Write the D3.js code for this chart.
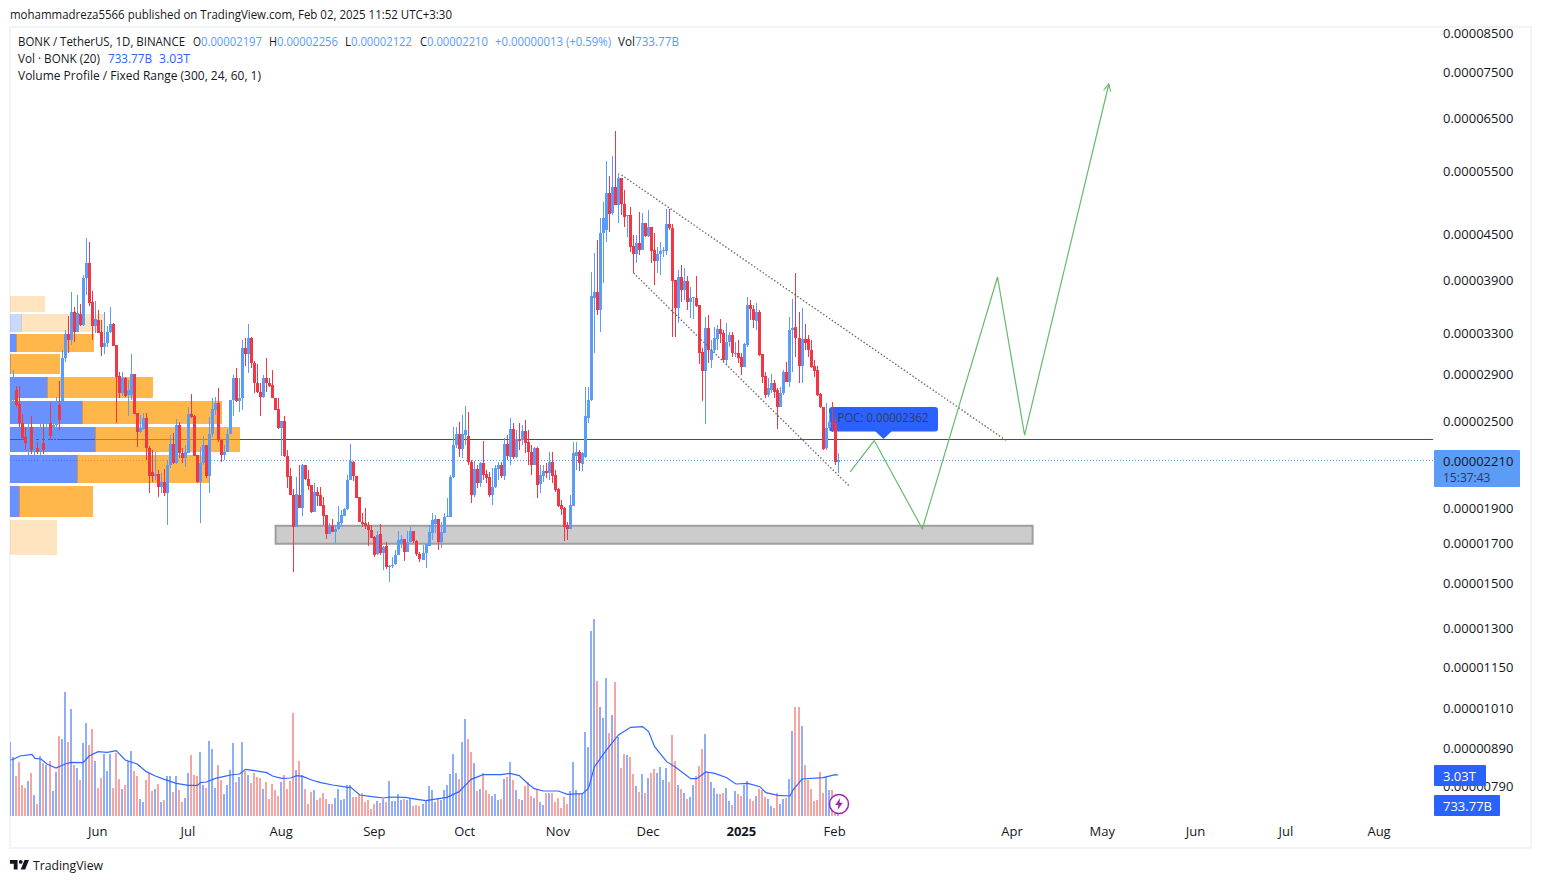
<!DOCTYPE html>
<html>
<head>
<meta charset="utf-8">
<script src="https://cdn.jsdelivr.net/npm/d3@7"></script>
<style>
  html, body { margin: 0; padding: 0; background: #fff; overflow: hidden; }
  text { font-family: "Open Sans", "Noto Sans", sans-serif; }
</style>
</head>
<body>
<div id="chart"></div>
<script>
// prices are in units of 0.00000001, volumes in billions
const firstDay = new Date(Date.UTC(2024, 4, 3));
const lastDay = new Date(Date.UTC(2025, 1, 3));

const opens = [2588,2671,2757,2637,2484,2377,2318,2453,2268,2296,2296,2333,2333,2484,2385,2469,2629,2645,3050,3290,3228,3526,3310,3504,3385,3925,4114,3639,3374,3438,3310,3158,3198,3310,3395,3178,2881,2731,2863,2714,2714,2900,2563,2415,2438,2524,2296,2129,2102,2116,2030,2063,1992,2176,2326,2190,2469,2260,2225,2260,2556,2540,2246,2063,2190,2318,2102,2400,2588,2645,2355,2246,2268,2400,2671,2863,2663,2688,3148,3089,3248,3001,2818,2740,2697,2863,2818,2800,2688,2596,2445,2500,2239,2102,1980,1790,1980,1900,2176,2083,2043,1876,1999,1980,1918,1859,1751,1795,1762,1779,1813,1853,1894,2076,2197,2102,1968,1819,1813,1801,1773,1734,1644,1751,1649,1686,1578,1583,1593,1639,1697,1723,1655,1707,1767,1712,1644,1613,1649,1686,1757,1807,1836,1707,1757,1847,1847,2096,2318,2400,2289,2392,2385,2197,1980,2149,2056,2190,2116,2096,1980,2030,2149,2176,2102,2326,2232,2438,2232,2363,2355,2423,2340,2268,2176,2296,2050,2102,2136,2122,2197,2109,2017,1918,1900,1801,1779,1912,2239,2268,2183,2232,2524,2671,3684,3755,3548,4523,4566,5131,4818,5230,4941,5380,4956,4772,4787,4342,4234,4382,4287,4667,4480,4610,4287,4141,4234,4274,4274,4652,4594,3900,3570,3937,3779,3888,3639,3684,3684,3605,3108,2927,3352,3030,3128,3238,3342,3300,3030,3208,3280,3089,3098,3060,2963,3178,3605,3559,3428,3526,3089,2881,2714,2757,2818,2757,2612,2731,2918,2827,3331,3363,3248,2973,3238,3238,3128,2973,2936,2722,2612,2296,2445,2492,2484,2197];
const highs = [2740,2936,2790,2790,2556,2453,2484,2540,2430,2340,2532,2476,2508,2645,2508,2697,2836,3128,3331,3482,3755,3582,3720,3616,3962,4452,4396,3767,3650,3548,3438,3526,3374,3582,3406,3178,2918,2918,2872,2845,3089,2900,2563,2548,2563,2563,2311,2282,2268,2142,2122,2149,2211,2392,2407,2516,2492,2296,2318,2612,2722,2548,2246,2304,2385,2318,2532,2688,2697,2775,2355,2318,2438,2671,2890,2954,2863,3228,3248,3395,3258,3020,2992,2818,2890,3050,2863,2936,2688,2688,2500,2540,2282,2156,2017,2096,2176,2183,2176,2142,2043,2056,2030,2030,1968,1859,1813,1836,1801,1912,1888,1900,2109,2326,2204,2102,1968,1871,1900,1819,1801,1740,1767,1807,1686,1707,1588,1628,1665,1767,1745,1723,1767,1790,1767,1718,1655,1691,1697,1801,1871,1859,1836,1819,1871,1961,2109,2453,2453,2492,2548,2621,2572,2211,2204,2176,2197,2348,2142,2129,2156,2176,2197,2197,2370,2392,2524,2484,2430,2484,2469,2508,2430,2318,2304,2304,2176,2176,2190,2268,2268,2142,2024,1949,1906,1819,1980,2340,2340,2282,2268,2782,2782,4000,4247,4424,4742,4988,5676,5412,5767,6240,5464,5380,5180,4787,4908,4495,4495,4833,4818,4667,4863,4610,4523,4328,4396,4328,4879,4879,4652,3900,4025,4089,4050,3950,3815,3697,3950,3605,3148,3471,3493,3228,3363,3385,3449,3331,3406,3310,3310,3208,3228,3098,3198,3697,3662,3605,3627,3548,3089,2918,2863,2900,2845,2775,2784,2936,3011,3471,3674,3987,3526,3570,3395,3280,3228,3030,2973,2731,2612,2645,2563,2654,2532,2256];
const lows = [2548,2629,2612,2453,2355,2282,2246,2254,2246,2254,2162,2254,2268,2355,2355,2355,2430,2548,3011,3098,3178,3208,3310,3374,3374,3720,3594,3228,3300,3300,3069,3089,3158,3300,3168,2484,2688,2705,2697,2540,2671,2556,2304,2407,2430,2211,1992,2063,2076,1968,1992,1974,1801,2156,2183,2183,2225,2190,2162,2260,2524,2239,2056,1813,2176,2089,1992,2377,2548,2340,2197,2211,2268,2400,2540,2654,2572,2588,2973,2909,2954,2731,2731,2540,2688,2740,2784,2688,2588,2438,2239,2232,2024,1980,1553,1790,1900,1853,2076,2011,1871,1876,1912,1912,1801,1723,1767,1762,1702,1773,1790,1853,1888,2076,2070,1961,1819,1790,1779,1686,1729,1628,1639,1639,1563,1568,1504,1573,1588,1639,1675,1608,1655,1707,1702,1633,1603,1613,1573,1686,1718,1757,1665,1675,1757,1847,1847,2089,2296,2232,2225,2318,2176,1930,1968,2024,2030,2076,2056,1968,1918,2024,2076,2089,2076,2211,2176,2218,2225,2282,2318,2260,2176,2109,2176,1961,1992,2063,2089,2076,2056,1999,1906,1859,1712,1718,1779,1912,2142,2135,2135,2225,2484,2663,3098,3493,3310,3864,4396,4538,4787,4941,4667,4787,4610,4466,4260,3987,4114,4220,4287,4466,4466,4114,3839,3987,3962,4194,4220,4566,3258,3258,3406,3639,3662,3548,3460,3449,3582,2992,2663,2476,3001,2954,3098,3128,3198,3011,2982,3158,3060,3060,3001,2890,2963,3158,3438,3352,3331,3069,2818,2688,2697,2731,2688,2438,2612,2714,2827,2784,2918,3060,2818,2818,3128,3060,2954,2872,2705,2604,2282,2282,2430,2415,2176,2122];
const closes = [2688,2757,2629,2484,2370,2333,2430,2282,2377,2268,2430,2282,2445,2385,2469,2629,2508,3050,3290,3228,3526,3310,3515,3385,3925,4114,3627,3374,3449,3300,3158,3198,3310,3395,3168,2872,2731,2863,2705,2757,2900,2556,2415,2445,2524,2296,2102,2102,2116,2030,2063,1992,2176,2326,2190,2469,2260,2225,2268,2556,2532,2239,2063,2190,2318,2102,2400,2596,2645,2355,2246,2268,2400,2671,2863,2663,2688,3148,3089,3248,3001,2818,2740,2697,2863,2818,2790,2688,2588,2445,2500,2239,2096,1980,1790,1986,1900,2176,2083,2037,1876,1999,1974,1912,1853,1751,1795,1762,1779,1819,1859,1894,2076,2204,2102,1961,1819,1807,1795,1773,1729,1639,1745,1649,1681,1578,1583,1588,1639,1718,1723,1655,1707,1767,1712,1644,1618,1649,1697,1762,1830,1836,1707,1762,1847,1853,2096,2318,2400,2289,2400,2430,2197,1980,2149,2056,2190,2109,2089,1980,2030,2156,2176,2102,2326,2239,2438,2232,2363,2348,2423,2333,2268,2176,2296,2043,2109,2136,2122,2197,2102,2011,1912,1894,1790,1779,1918,2260,2268,2190,2260,2540,2671,3708,3755,3548,4523,4742,5131,4802,5230,4941,5380,4956,4757,4787,4328,4234,4382,4287,4667,4480,4610,4274,4141,4234,4274,4287,4652,4594,3888,3570,3937,3779,3888,3639,3684,3697,3594,3098,2927,3352,3128,3128,3248,3342,3290,3030,3208,3280,3098,3098,3050,2963,3188,3605,3559,3438,3526,3079,2872,2714,2775,2818,2740,2612,2731,2918,2827,3331,3352,3248,2973,3238,3198,3128,2963,2927,2714,2612,2289,2445,2492,2476,2197,2210];
const volumes = [5500,4342,2960,3997,2294,2072,2590,3182,1554,888,4441,3947,3775,4071,1850,3256,5921,5699,9177,5477,7919,3775,3552,2664,5403,6883,5255,6439,4071,2072,2812,4589,3330,4589,2072,4663,2738,1998,2294,4071,4811,3330,2960,1258,1036,2664,3182,1850,1998,2368,1036,1184,2960,2960,1776,2960,1924,1036,1332,3182,4515,3034,2960,4737,2294,2072,5551,4959,2072,3775,2664,1628,2294,3404,5403,2516,2886,5477,3330,3034,2442,3182,2886,2812,1998,2516,1258,2368,1924,1480,2516,3034,1998,2590,7623,3404,4071,3034,1998,888,1776,1924,1184,1332,1702,1258,888,888,1332,1998,1184,1258,2294,2294,1406,1406,1554,1702,1036,1184,518,888,1110,962,1258,1036,2590,1110,1110,1628,1184,1258,1184,1258,740,814,740,888,1110,2220,1924,1036,1258,1184,1924,2294,3108,4589,3182,2738,5477,7179,5699,4737,3923,1850,1998,3182,1924,1628,1480,1628,1184,1258,2738,2886,3997,2664,1924,1258,1184,2220,2516,1480,1332,1924,1036,814,1702,1702,1702,1036,1332,592,1406,888,1850,3997,1924,1628,1702,6217,5107,13692,14580,9991,8067,7253,10213,6143,7475,9917,5847,3552,4589,4515,4367,3108,2220,1776,3108,1702,2812,3182,3478,3182,3626,2664,3552,2516,5995,4071,2294,1998,1702,1258,1406,2294,2960,3701,4959,6069,3182,2516,2072,1628,1628,1702,2072,1110,814,1850,1628,1480,2294,2590,1258,1110,1480,1998,1924,1406,1258,740,592,1702,888,1258,1332,2738,6291,8067,8067,6661,3775,2664,1998,1110,1184,3256,1702,2886,1924,1924,1060,733.77];

const maBars = [0,1,3,7,8,10,12,15,18,20,24,26,29,32,35,38,42,45,48,51,55,59,62,63,65,68,71,73,76,78,81,85,87,90,93,95,97,100,103,107,112,113,116,120,124,126,131,135,138,140,145,149,153,157,163,166,169,172,174,177,182,185,190,192,194,198,202,206,210,212,214,218,221,226,228,231,234,238,241,245,249,251,255,259,260,263,270,274,275];
const maValues = [4145,4219,4441,4564,4268,4219,3849,3552,3849,3972,3947,4441,4761,4712,4835,4145,3849,3281,2960,2714,2418,2270,2270,2467,2516,2788,2936,3034,3108,3454,3355,3207,2960,2788,2812,2985,2936,2664,2467,2294,2122,2122,1554,1431,1332,1406,1382,1234,1135,1209,1382,1801,2714,3059,3059,3158,2985,2368,2023,1850,1850,1604,1653,2048,3651,4885,5995,6562,6612,6242,5131,4021,3602,2763,2763,3256,3158,2837,2368,2418,2171,1727,1530,1480,1924,2738,2837,3059,3034];

// fixed range volume profile rows, widths as percent of the POC row
const vpTop = [3708,3504,3290,3089,2872,2663,2453,2246,2037,1830];
const vpBottom = [3526,3310,3108,2900,2688,2476,2268,2056,1847,1639];
const vpUp = [0,5.2,3,0.4,16.5,31.7,37.4,29.6,4.3,0];
const vpDown = [15.2,35.6,33.5,21.3,45.7,60.4,62.6,57.4,31.8,20.3];
const vpInValueArea = [false,false,true,true,true,true,true,true,true,false];

const priceTicks = [8500,7500,6500,5500,4500,3900,3300,2900,2500,1900,1700,1500,1300,1150,1010,890,790];
const timeTickDates = ['2024-06-01','2024-07-01','2024-08-01','2024-09-01','2024-10-01','2024-11-01','2024-12-01','2025-01-01','2025-02-01','2025-04-01','2025-05-01','2025-06-01','2025-07-01','2025-08-01'];
const timeTickLabels = ['Jun','Jul','Aug','Sep','Oct','Nov','Dec','2025','Feb','Apr','May','Jun','Jul','Aug'];

// drawings: [date, price]
const pocPrice = 2362;
const lastPrice = 2210;
const zoneDates = ['2024-07-30','2025-04-08'];
const zonePrices = [1796,1697];
const channelUpper = [['2024-11-22',5431],['2025-03-30',2348]];
const channelLower = [['2024-11-26',3987],['2025-02-06',2030]];
const forecast = [['2025-02-06',2129],['2025-02-14',2350],['2025-03-02',1779],['2025-03-27',3937],['2025-04-05',2390],['2025-05-03',7237]];

const width = 1541, height = 883;
const paneLeft = 10, paneRight = 1433, paneTop = 27, paneBottom = 816;

const parseDay = d3.utcParse('%Y-%m-%d');
const dates = d3.utcDay.range(firstDay, lastDay);

const scaleX = d3.scaleUtc()
  .domain([firstDay, d3.utcDay.offset(firstDay, 473)])
  .range([10.9, 1433.7]);
const scaleY = d3.scaleLog().domain([8500, 1000]).range([33, 711.4]);
const scaleVol = d3.scaleLinear().domain([0, 15000]).range([816, 613.3]);
const scaleProfile = d3.scaleLinear().domain([0, 100]).range([10, 240]);

const blue = '#5b9cf6', red = '#f23645', green = '#66bb6a';
const upDay = i => closes[i] >= opens[i];
const snap = v => Math.floor(v);

const svg = d3.select('#chart').append('svg')
  .attr('width', width).attr('height', height)
  .style('display', 'block');

const defs = svg.append('defs');
defs.append('clipPath').attr('id', 'pane')
  .append('rect')
  .attr('x', paneLeft).attr('y', paneTop)
  .attr('width', paneRight - paneLeft).attr('height', paneBottom - paneTop);

// outer frame
svg.append('rect')
  .attr('x', 10).attr('y', 27).attr('width', 1521).attr('height', 821)
  .attr('fill', 'none').attr('stroke', '#f0f3fa').attr('stroke-width', 2);

const pane = svg.append('g').attr('clip-path', 'url(#pane)');

// poc and last price lines
pane.append('line')
  .attr('x1', paneLeft).attr('x2', paneRight)
  .attr('y1', Math.round(scaleY(pocPrice)) + 0.5).attr('y2', Math.round(scaleY(pocPrice)) + 0.5)
  .attr('stroke', '#ff0000').attr('stroke-width', 1);
pane.append('line')
  .attr('x1', paneLeft).attr('x2', paneRight)
  .attr('y1', Math.round(scaleY(lastPrice)) + 0.5).attr('y2', Math.round(scaleY(lastPrice)) + 0.5)
  .attr('stroke', blue).attr('stroke-width', 1).attr('stroke-dasharray', '1 2');

// volume bars
pane.append('g').attr('shape-rendering', 'crispEdges').selectAll('rect')
  .data(volumes).enter().append('rect')
  .attr('x', (d, i) => snap(scaleX(dates[i])) - 1)
  .attr('y', d => Math.round(scaleVol(d)))
  .attr('width', 2)
  .attr('height', d => scaleVol(0) - Math.round(scaleVol(d)))
  .attr('fill', (d, i) => upDay(i) ? '#8fadf8' : '#f6a4a4');

// volume average
const maLine = d3.line()
  .x(d => scaleX(dates[d[0]]))
  .y(d => scaleVol(d[1]));
pane.append('path')
  .attr('d', maLine(d3.zip(maBars, maValues)))
  .attr('fill', 'none').attr('stroke', '#2f66ff').attr('stroke-width', 1.2);

// volume profile
const profile = pane.append('g').attr('shape-rendering', 'crispEdges');
vpTop.forEach((top, i) => {
  const y = Math.round(scaleY(top)), h = Math.round(scaleY(vpBottom[i])) - y;
  const alpha = vpInValueArea[i] ? 0.7 : 0.25;
  profile.append('rect')
    .attr('x', scaleProfile(0)).attr('y', y)
    .attr('width', scaleProfile(vpUp[i]) - scaleProfile(0)).attr('height', h)
    .attr('fill', `rgba(41,98,255,${alpha})`);
  profile.append('rect')
    .attr('x', scaleProfile(vpUp[i]) - 1).attr('y', y)
    .attr('width', scaleProfile(vpDown[i]) - scaleProfile(0) + 1).attr('height', h)
    .attr('fill', `rgba(255,152,0,${alpha})`);
});

// grey zone
const zoneX0 = scaleX(parseDay(zoneDates[0])), zoneX1 = scaleX(parseDay(zoneDates[1]));
pane.append('rect')
  .attr('x', zoneX0).attr('y', scaleY(zonePrices[0]))
  .attr('width', zoneX1 - zoneX0 - 1)
  .attr('height', scaleY(zonePrices[1]) - scaleY(zonePrices[0]))
  .attr('fill', '#cccccc').attr('stroke', '#9e9e9e').attr('stroke-width', 2);

// poc callout
const calloutX = 829;
const callout = pane.append('g');
callout.append('rect')
  .attr('x', calloutX).attr('y', 407)
  .attr('width', 109).attr('height', 24.5).attr('rx', 3)
  .attr('fill', '#2962ff');
callout.append('path')
  .attr('d', 'M875 431 L883.5 439 L892 431 Z')
  .attr('fill', '#2962ff');
callout.append('text')
  .attr('x', calloutX + 8.5).attr('y', 422)
  .attr('font-size', 12).attr('fill', '#333c5c')
  .attr('textLength', 91).attr('lengthAdjust', 'spacingAndGlyphs')
  .text('POC: 0.00002362');

// candles
const candles = pane.append('g').attr('shape-rendering', 'crispEdges');
candles.selectAll('line')
  .data(dates).enter().append('line')
  .attr('x1', d => snap(scaleX(d)) + 0.5).attr('x2', d => snap(scaleX(d)) + 0.5)
  .attr('y1', (d, i) => Math.round(scaleY(highs[i])))
  .attr('y2', (d, i) => Math.round(scaleY(lows[i])))
  .attr('stroke', (d, i) => upDay(i) ? blue : red)
  .attr('stroke-width', 1);
candles.selectAll('rect')
  .data(dates).enter().append('rect')
  .attr('x', d => snap(scaleX(d)) - 1)
  .attr('y', (d, i) => Math.round(scaleY(Math.max(opens[i], closes[i]))))
  .attr('width', 3)
  .attr('height', (d, i) => Math.max(1, Math.round(scaleY(Math.min(opens[i], closes[i]))) - Math.round(scaleY(Math.max(opens[i], closes[i])))))
  .attr('fill', (d, i) => upDay(i) ? blue : red);

// drawings
const drawLine = d3.line()
  .x(d => scaleX(parseDay(d[0])))
  .y(d => scaleY(d[1]));

[channelUpper, channelLower].forEach(c => {
  pane.append('path')
    .attr('d', drawLine(c))
    .attr('fill', 'none').attr('stroke', '#666')
    .attr('stroke-width', 1.3).attr('stroke-dasharray', '1.5 2');
});

defs.append('marker').attr('id', 'arrow')
  .attr('viewBox', '0 0 10 10').attr('refX', 9).attr('refY', 5)
  .attr('markerWidth', 9).attr('markerHeight', 9).attr('markerUnits', 'userSpaceOnUse')
  .attr('orient', 'auto')
  .append('path')
  .attr('d', 'M1 1 L9 5 L1 9')
  .attr('fill', 'none').attr('stroke', green).attr('stroke-width', 1.2);

pane.append('path')
  .attr('d', drawLine(forecast))
  .attr('fill', 'none').attr('stroke', green).attr('stroke-width', 1.2)
  .attr('marker-end', 'url(#arrow)');

// lightning badge
const badge = svg.append('g').attr('transform', 'translate(839,804)');
badge.append('circle').attr('r', 9.5).attr('fill', '#fff').attr('stroke', '#9c27b0').attr('stroke-width', 1.5);
badge.append('path').attr('d', 'M1.2 -6 L-3.8 1 L-0.6 1 L-1.4 6 L3.8 -1.2 L0.5 -1.2 Z').attr('fill', '#9c27b0');

// axes
const yAxis = svg.append('g')
  .attr('transform', `translate(${paneRight},0)`)
  .call(d3.axisRight(scaleY).tickValues(priceTicks).tickSize(0).tickPadding(10)
    .tickFormat(d => (d / 1e8).toFixed(8)));
yAxis.select('.domain').remove();
yAxis.selectAll('text')
  .attr('font-size', 13).attr('fill', '#131722')
  .style('font-family', '"Open Sans", sans-serif');

const xAxis = svg.append('g')
  .attr('transform', `translate(0,${paneBottom})`)
  .call(d3.axisBottom(scaleX)
    .tickValues(timeTickDates.map(parseDay))
    .tickSize(0).tickPadding(11)
    .tickFormat((d, i) => timeTickLabels[i]));
xAxis.select('.domain').remove();
xAxis.selectAll('text')
  .attr('font-size', 13).attr('fill', '#131722').attr('dx', -1)
  .style('font-family', '"Open Sans", sans-serif')
  .style('font-weight', (d, i) => timeTickLabels[i] === '2025' ? 700 : 400);

// price tags
const tags = svg.append('g');
tags.append('rect').attr('x', 1434).attr('y', 450).attr('width', 86).attr('height', 37).attr('rx', 1).attr('fill', blue);
tags.append('text').attr('x', 1443).attr('y', 466).attr('font-size', 13).attr('fill', '#131722').text((lastPrice / 1e8).toFixed(8));
tags.append('text').attr('x', 1443).attr('y', 482).attr('font-size', 12).attr('fill', '#2a3a5e').text('15:37:43');
tags.append('rect').attr('x', 1434).attr('y', 765).attr('width', 52).attr('height', 21).attr('rx', 1).attr('fill', '#2962ff');
tags.append('text').attr('x', 1443).attr('y', 781).attr('font-size', 13).attr('fill', '#fff').text('3.03T');
tags.append('rect').attr('x', 1434).attr('y', 795).attr('width', 66).attr('height', 21).attr('rx', 1).attr('fill', '#2962ff');
tags.append('text').attr('x', 1443).attr('y', 811).attr('font-size', 13).attr('fill', '#fff').text('733.77B');

// header and legends, the widths keep each run on the reference's span
const label = (x, y, txt, span, fill, size) => svg.append('text')
  .attr('x', x).attr('y', y).attr('font-size', size || 12).attr('fill', fill || '#131722')
  .attr('textLength', span).attr('lengthAdjust', 'spacingAndGlyphs').text(txt);

label(10, 19, 'mohammadreza5566 published on TradingView.com, Feb 02, 2025 11:52 UTC+3:30', 442);

const valueBlue = '#5b9cf6', volBlue = '#2962ff';
label(18, 46, 'BONK / TetherUS, 1D, BINANCE', 167);
label(193, 46, 'O', 8); label(201, 46, '0.00002197', 61, valueBlue);
label(269, 46, 'H', 8); label(277, 46, '0.00002256', 61, valueBlue);
label(345, 46, 'L', 6); label(351, 46, '0.00002122', 61, valueBlue);
label(420, 46, 'C', 7); label(427, 46, '0.00002210', 61, valueBlue);
label(495, 46, '+0.00000013 (+0.59%)', 116, valueBlue);
label(618, 46, 'Vol', 17); label(635, 46, '733.77B', 44, valueBlue);
label(18, 63, 'Vol · BONK (20)', 82);
label(108, 63, '733.77B', 44, volBlue);
label(159, 63, '3.03T', 31, volBlue);
label(18, 80, 'Volume Profile / Fixed Range (300, 24, 60, 1)', 243);

// tradingview mark
svg.append('path')
  .attr('transform', 'translate(8.7,856.2) scale(0.633)')
  .attr('d', 'M14 6H2v6h6v9h6V6Zm12 15h-7l6-15h7l-6 15Zm-7-9a3 3 0 1 0 0-6 3 3 0 0 0 0 6Z')
  .attr('fill', '#131722');
label(33, 870, 'TradingView', 70, '#131722', 13);
</script>
</body>
</html>
